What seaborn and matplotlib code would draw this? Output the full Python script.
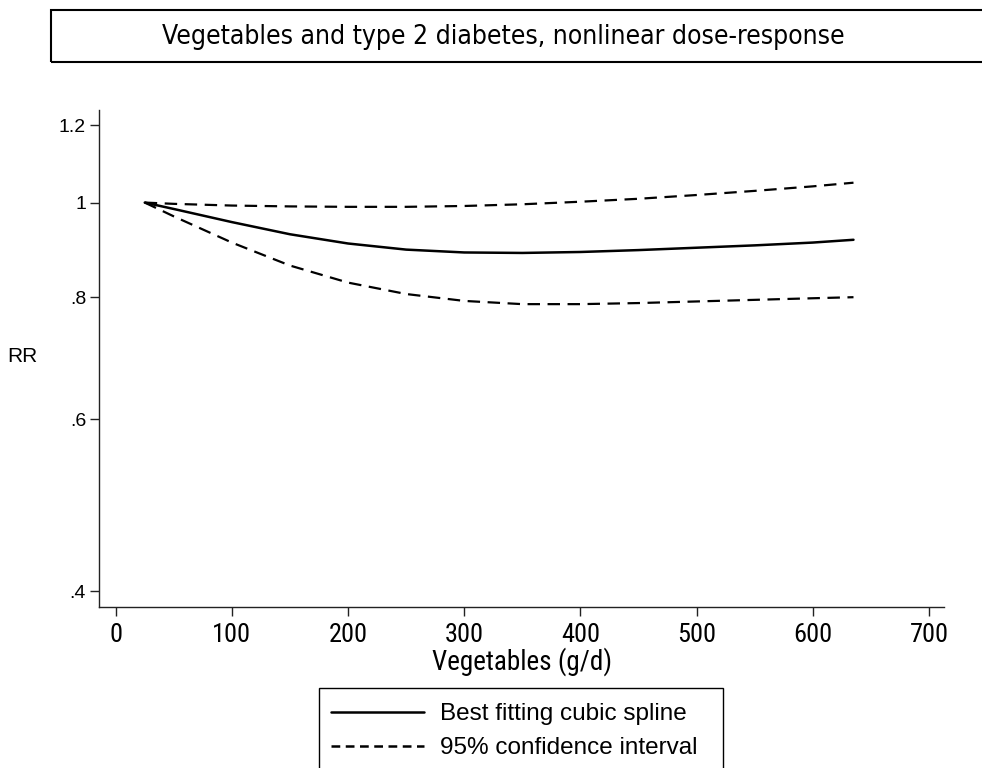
import numpy as np
import pandas as pd
import seaborn as sns
import matplotlib
matplotlib.use("Agg")
import matplotlib.pyplot as plt
from matplotlib import font_manager as fm
from matplotlib.lines import Line2D
from matplotlib.patches import Rectangle
from matplotlib.ticker import FixedLocator, FixedFormatter, NullLocator

# Vegetable intake (g/d) and relative risk of type 2 diabetes
intake = [25, 50, 100, 150, 200, 250, 300, 350, 400, 450, 500, 550, 600, 635]
rr_spline = [1.000, 0.985, 0.955, 0.928, 0.908, 0.895, 0.889, 0.888, 0.890,
             0.894, 0.899, 0.904, 0.910, 0.916]
rr_upper = [1.000, 0.997, 0.993, 0.991, 0.990, 0.990, 0.992, 0.996, 1.002,
            1.009, 1.018, 1.028, 1.039, 1.048]
rr_lower = [1.000, 0.968, 0.910, 0.862, 0.828, 0.806, 0.793, 0.787, 0.787,
            0.789, 0.792, 0.795, 0.798, 0.800]

x_ticks = [0, 100, 200, 300, 400, 500, 600, 700]
y_ticks = [0.4, 0.6, 0.8, 1.0, 1.2]
y_tick_labels = [".4", ".6", ".8", "1", "1.2"]

title = "Vegetables and type 2 diabetes, nonlinear dose-response"
x_label = "Vegetables (g/d)"
y_label = "RR"
legend_labels = ["Best fitting cubic spline", "95% confidence interval"]

sns.set_style("white")
plt.rcParams["font.family"] = ["Liberation Sans", "DejaVu Sans"]
plt.rcParams["text.color"] = "black"
plt.rcParams["axes.labelcolor"] = "black"
plt.rcParams["xtick.color"] = "black"
plt.rcParams["ytick.color"] = "black"

# pick a narrow face for the x axis texts
fonts = fm.fontManager.ttflist
names = {f.name for f in fonts}
narrow_kw = None
for cand in ["Liberation Sans Narrow", "Arial Narrow", "Roboto Condensed",
             "Noto Sans Condensed", "Open Sans Condensed"]:
    if cand in names:
        narrow_kw = dict(family=cand)
        break
if narrow_kw is None:
    for fam in ["Noto Sans", "Roboto", "Open Sans", "DejaVu Sans"]:
        if any(f.name == fam and f.stretch in ("condensed", "semi-condensed")
               and f.weight in (400, "normal", "regular") for f in fonts):
            narrow_kw = dict(family=fam, fontstretch="condensed")
            break
if narrow_kw is None:
    narrow_kw = dict(family="Liberation Sans")

has_condensed = any(f.name == "DejaVu Sans" and f.stretch == "condensed" for f in fonts)

df = pd.DataFrame({"intake": intake, "spline": rr_spline,
                   "upper": rr_upper, "lower": rr_lower})

fig = plt.figure(figsize=(9.82, 7.68), dpi=100)
W, H = 982, 768
ax = fig.add_axes([99.3 / W, 1 - 607.3 / H, (944 - 99.3) / W, (607.3 - 110) / H])

dash = (0, (5.6, 3.4))
sns.lineplot(data=df, x="intake", y="spline", ax=ax, color="black", lw=1.8)
sns.lineplot(data=df, x="intake", y="upper", ax=ax, color="black", lw=1.6, linestyle=dash)
sns.lineplot(data=df, x="intake", y="lower", ax=ax, color="black", lw=1.6, linestyle=dash)

ax.set_yscale("log")
ax.set_xlim(-14.1, 712.9)
ax.set_ylim(0.385, 1.244)
ax.xaxis.set_major_locator(FixedLocator(x_ticks))
ax.yaxis.set_major_locator(FixedLocator(y_ticks))
ax.yaxis.set_major_formatter(FixedFormatter(y_tick_labels))
ax.yaxis.set_minor_locator(NullLocator())
ax.xaxis.set_minor_locator(NullLocator())

for s in ["top", "right"]:
    ax.spines[s].set_visible(False)
for s in ["left", "bottom"]:
    ax.spines[s].set_color("#222222")
    ax.spines[s].set_linewidth(1.0)

ax.tick_params(axis="both", which="major", bottom=True, left=True,
               direction="out", length=6.5, width=1.0, color="#222222")
ax.tick_params(axis="x", pad=4.5, labelsize=19)
ax.tick_params(axis="y", pad=3, labelsize=14)
for lab in ax.get_xticklabels():
    lab.set(**narrow_kw)

ax.set_xlabel(x_label, fontsize=19.5, labelpad=0.5, **narrow_kw)
ax.set_ylabel("")
fig.text(22 / W, 1 - 357 / H, y_label, fontsize=15, ha="center", va="center")

# Title box
fig.patches.append(Rectangle((50.7 / W, 1 - 62 / H), 1.0, (62 - 9.5) / H,
                             transform=fig.transFigure, fill=False,
                             lw=1.5, ec="black"))
title_kw = dict(fontsize=19, ha="center", va="center", family="DejaVu Sans")
if has_condensed:
    title_kw["fontstretch"] = "condensed"
fig.text(503 / W, 1 - 37 / H, title, **title_kw)

# Legend box
fig.patches.append(Rectangle((319 / W, -0.05), (723 - 319) / W, 0.05 + (768 - 688) / H,
                             transform=fig.transFigure, fill=False,
                             lw=1.0, ec="black"))
handles = [Line2D([], [], color="black", lw=1.8),
           Line2D([], [], color="black", lw=1.8, linestyle=(0, (3.5, 2.2)))]
fig.legend(handles, legend_labels, loc="upper left",
           bbox_to_anchor=(319 / W, 1 - 691 / H), frameon=False,
           fontsize=17.5, handlelength=3.83, handletextpad=0.66,
           borderpad=0.3, borderaxespad=0.2, labelspacing=0.5)

fig.savefig("out.png", dpi=100)
